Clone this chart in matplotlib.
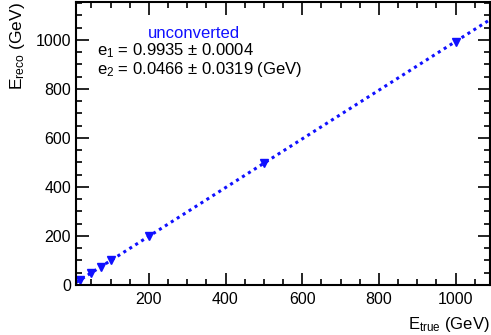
import numpy as np
import matplotlib
matplotlib.use("Agg")
import matplotlib.pyplot as plt
from matplotlib.ticker import MultipleLocator

plt.rcParams['font.family'] = ['Liberation Sans', 'DejaVu Sans']
plt.rcParams['mathtext.fontset'] = 'custom'
plt.rcParams['mathtext.rm'] = 'Liberation Sans'
plt.rcParams['mathtext.it'] = 'Liberation Sans'

# data
e_true = [20, 50, 75, 100, 200, 500, 1000]
e_reco = [20, 50, 75, 100, 200, 497, 993]
e1 = 0.9935
e2 = 0.0466

fig = plt.figure(figsize=(4.91, 3.35), dpi=100)
ax = fig.add_axes([76 / 491, 50 / 335, 414 / 491, 283 / 335])

xf = np.array([10, 1100])
ax.plot(xf, e1 * xf + e2, color='#1010ff', ls=(0, (1, 1.3)), lw=2.2)
ax.plot(e_true, e_reco, 'v', color='#1010ff', ms=5.5, ls='none')

ax.set_xlim(10, 1090)
ax.set_ylim(0, 1155)
ax.xaxis.set_major_locator(MultipleLocator(200))
ax.xaxis.set_minor_locator(MultipleLocator(50))
ax.yaxis.set_major_locator(MultipleLocator(200))
ax.yaxis.set_minor_locator(MultipleLocator(50))
ax.tick_params(which='both', direction='in', top=True, right=True, labelsize=11.5, width=1.2)
ax.tick_params(which='major', length=9)
ax.tick_params(which='minor', length=4.5)
ax.tick_params(axis='x', pad=5)
for s in ax.spines.values():
    s.set_linewidth(1.5)

ax.set_xlabel(r'E$_{\mathrm{true}}$ (GeV)', fontsize=12, loc='right', labelpad=6)
ax.set_ylabel(r'E$_{\mathrm{reco}}$ (GeV)', fontsize=12.5, loc='top', labelpad=6)

ax.text(0.285, 0.872, 'unconverted', color='#1010ff', fontsize=12, ha='center', transform=ax.transAxes)
ax.text(0.05, 0.812, r'e$_1$ = 0.9935 $\pm$ 0.0004', fontsize=12, transform=ax.transAxes)
ax.text(0.05, 0.745, r'e$_2$ = 0.0466 $\pm$ 0.0319 (GeV)', fontsize=12, transform=ax.transAxes)

fig.savefig("out.png", dpi=100)
